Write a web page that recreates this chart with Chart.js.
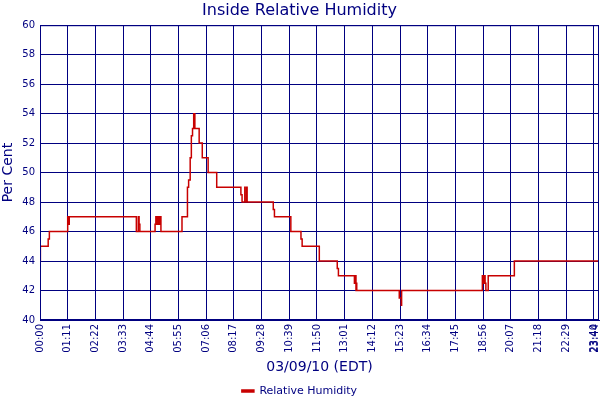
<!DOCTYPE html>
<html>
<head>
<meta charset="utf-8">
<script src="https://cdn.jsdelivr.net/npm/chart.js@4.4.1/dist/chart.umd.min.js"></script>
<style>
  html, body { margin: 0; padding: 0; background: #fff; }
</style>
</head>
<body>
<canvas id="rhChart" width="600" height="400"></canvas>
<script>
// readings: minute of day when the value changed, and the new value
const readingMinutes = [0, 1, 21, 24, 71, 72, 73, 74, 75, 247, 252, 254, 256, 295, 297, 300, 302, 305, 307, 310,
  364, 378, 381, 385, 388, 391, 394, 395, 396, 397, 408, 416, 431, 453, 515, 518, 525, 526, 530, 531,
  598, 601, 643, 669, 672, 716, 762, 765, 806, 807, 808, 809, 810, 811, 812, 921, 926, 927,
  1134, 1135, 1136, 1138, 1139, 1141, 1143, 1149, 1216, 1433];
const humidity = [44, 45, 45.5, 46, 47, 46.5, 47, 46.5, 47, 46, 47, 46.5, 46, 46.5, 47, 46.5, 47, 46.5, 47, 46,
  47, 49, 49.5, 51, 52.5, 53, 54, 53, 54, 53, 52, 51, 50, 49, 48.5, 48, 49, 48, 49, 48,
  47.5, 47, 46, 45.5, 45, 44, 43.5, 43, 42.5, 43, 42.5, 43, 42, 42.5, 42, 41.5, 41, 42,
  43, 42.5, 43, 42.5, 43, 42.5, 42, 43, 44, 44];

const timeTickLabels = ['00:00', '01:11', '02:22', '03:33', '04:44', '05:55', '07:06', '08:17', '09:28', '10:39',
  '11:50', '13:01', '14:12', '15:23', '16:34', '17:45', '18:56', '20:07', '21:18', '22:29', '23:40', '23:44'];
const yMin = 40, yMax = 60, yStep = 2;

const navy = '#000080';
const red = '#c80000';

function toMinutes(label) {
  const parts = label.split(':');
  return Number(parts[0]) * 60 + Number(parts[1]);
}
const tickMinutes = timeTickLabels.map(toMinutes);
const lastTick = tickMinutes[tickMinutes.length - 1];

Chart.defaults.font.family = 'DejaVu Sans';
Chart.defaults.color = navy;

const frame = {
  id: 'frame',
  afterDraw(chart) {
    const a = chart.chartArea, ctx = chart.ctx;
    ctx.save();
    ctx.strokeStyle = navy;
    ctx.lineWidth = 1;
    ctx.strokeRect(a.left + 0.5, a.top + 0.5, a.right - a.left - 1, a.bottom - a.top - 1);
    ctx.restore();
  }
};

new Chart(document.getElementById('rhChart'), {
  type: 'line',
  data: {
    datasets: [{
      label: 'Relative Humidity',
      data: readingMinutes.map((m, i) => ({ x: m, y: humidity[i] })),
      borderColor: red,
      backgroundColor: red,
      borderWidth: 1.5,
      pointRadius: 0,
      stepped: 'before',
      fill: false
    }]
  },
  options: {
    responsive: false,
    animation: false,
    devicePixelRatio: 1,
    layout: { padding: { left: 0, right: 1, top: 0, bottom: -6.5 } },
    plugins: {
      title: {
        display: true,
        text: 'Inside Relative Humidity',
        color: navy,
        font: { size: 16, weight: 'normal' },
        padding: { top: 1, bottom: 5 }
      },
      legend: {
        position: 'bottom',
        labels: { color: navy, font: { size: 11 }, boxWidth: 12, boxHeight: 2, padding: 0 }
      },
      tooltip: { enabled: false }
    },
    scales: {
      x: {
        type: 'linear',
        min: 0,
        max: 1433,
        afterBuildTicks: scale => { scale.ticks = tickMinutes.map(v => ({ value: v })); },
        afterFit: scale => { scale.height = 65.5; scale.paddingLeft = 0; scale.paddingRight = 0; },
        ticks: {
          autoSkip: false,
          minRotation: 90,
          maxRotation: 90,
          padding: 4,
          color: navy,
          font: { size: 10 },
          callback: (value, index) => timeTickLabels[index]
        },
        grid: {
          drawTicks: false,
          color: ctx => (ctx.tick && ctx.tick.value === lastTick) ? 'rgba(0,0,0,0)' : navy,
          lineWidth: 1
        },
        border: { display: true, color: navy },
        title: {
          display: true,
          text: '03/09/10 (EDT)',
          color: navy,
          font: { size: 14 },
          padding: { top: 0, bottom: 10 }
        }
      },
      y: {
        min: yMin,
        max: yMax,
        afterFit: scale => { scale.width = 40; },
        ticks: { stepSize: yStep, padding: 5, color: navy, font: { size: 10 } },
        grid: { drawTicks: false, color: navy, lineWidth: 1 },
        border: { display: true, color: navy },
        title: {
          display: true,
          text: 'Per Cent',
          color: navy,
          font: { size: 14 },
          padding: { top: 0, bottom: 0 }
        }
      }
    }
  },
  plugins: [frame]
});
</script>
</body>
</html>
